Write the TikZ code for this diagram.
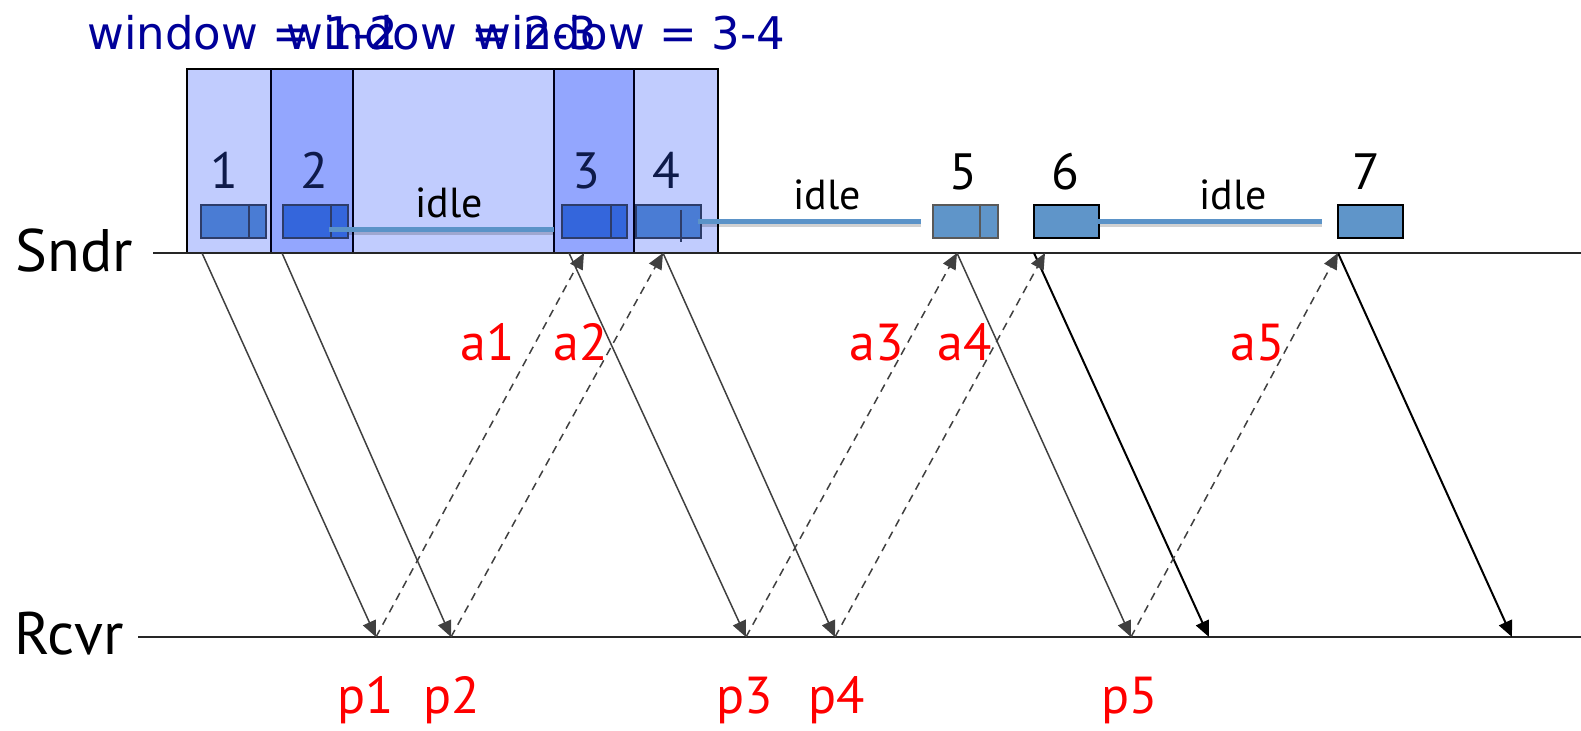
\documentclass[tikz,border=0pt]{standalone}
\usepackage{fontspec}
\setmainfont{PT Sans}
\newfontfamily\winfont{DejaVu Sans}
\usetikzlibrary{arrows.meta}
\definecolor{winblue}{RGB}{0,0,153}
\definecolor{numblue}{RGB}{14,26,74}
\definecolor{colA}{RGB}{193,204,254}
\definecolor{colB}{RGB}{147,166,254}
\definecolor{pktA}{RGB}{74,124,212}
\definecolor{pktB}{RGB}{52,102,220}
\definecolor{pktC}{RGB}{95,149,201}
\definecolor{pktedge}{RGB}{45,60,105}
\definecolor{idleblue}{RGB}{91,147,200}
\definecolor{arrgray}{RGB}{64,64,64}
\begin{document}
\begin{tikzpicture}[x=0.5pt,y=-0.5pt,
  wintxt/.style={font=\winfont\fontsize{22.5}{27}\selectfont, text=winblue, anchor=base west, inner sep=0pt},
  numtxt/.style={font=\fontsize{25.5}{30}\selectfont, anchor=base, inner sep=0pt},
  idletxt/.style={font=\fontsize{21}{25}\selectfont, anchor=base, inner sep=0pt},
  redtxt/.style={font=\fontsize{26}{30}\selectfont, text=red, anchor=base, inner sep=0pt},
  sidetxt/.style={font=\fontsize{30}{36}\selectfont, anchor=base west, inner sep=0pt},
  pkt/.style={draw=pktedge, line width=0.9pt, anchor=north west, minimum width=32.5pt, minimum height=16.5pt, inner sep=0pt},
  idleline/.style={idleblue, line width=2.5pt},
  idleshadow/.style={black, opacity=0.18, line width=2.5pt},
  data/.style={arrgray, line width=0.75pt, -{Triangle[length=8pt,width=7pt]}},
  datab/.style={black, line width=1pt, -{Triangle[length=8pt,width=7pt]}},
  ack/.style={arrgray, line width=0.75pt, dash pattern=on 4pt off 3pt, -{Triangle[length=8pt,width=7pt]}},
  timeline/.style={black!85, line width=1pt}
]
\useasboundingbox (0,0) rectangle (1581,731);

% window texts
\node[wintxt] (w1) at (87,50) {window = 1-2};
\node[wintxt] (w2) at (286,50) {window = 2-3};
\node[wintxt] (w3) at (474,50) {window = 3-4};

% window columns
\fill[colA] (187,69) rectangle (271,253);
\fill[colB] (271,69) rectangle (353,253);
\fill[colA] (353,69) rectangle (554,253);
\fill[colB] (554,69) rectangle (634,253);
\fill[colA] (634,69) rectangle (718,253);
\draw[black, line width=0.8pt] (187,253) -- (187,69) -- (718,69) -- (718,253);
\foreach \xx in {271,353,554,634} \draw[black!90!blue, line width=0.8pt] (\xx,69) -- (\xx,253);

% timelines
\node[sidetxt] (sndr) at (15,272) {Sndr};
\node[sidetxt] (rcvr) at (14,655) {Rcvr};
\coordinate (sL) at (153,253);
\coordinate (sR) at (1581,253);
\coordinate (rL) at (138,637);
\coordinate (rR) at (1581,637);
\draw[timeline] (sL) -- (sR);
\draw[timeline] (rL) -- (rR);

% numbers
\node[numtxt, text=numblue] (n1) at (224,189) {1};
\node[numtxt, text=numblue] (n2) at (314,189) {2};
\node[numtxt, text=numblue] (n3) at (586,189) {3};
\node[numtxt, text=numblue] (n4) at (666,189) {4};
\node[numtxt] (n5) at (963,190) {5};
\node[numtxt] (n6) at (1065,190) {6};
\node[numtxt] (n7) at (1366,190) {7};

% idle lines (shadow + line)
\draw[idleshadow] (331,233) -- (554,233);
\draw[idleshadow] (698,225) -- (921,225);
\draw[idleshadow] (1097,225) -- (1322,225);

% packets
\node[pkt, fill=pktA] (b1) at (200,204) {};
\draw[pktedge, line width=0.9pt] (249,204) -- (249,237);
\node[pkt, fill=pktB] (b2) at (282,204) {};
\draw[pktedge, line width=0.9pt] (331,204) -- (331,237);
\node[pkt, fill=pktB] (b3) at (561,204) {};
\draw[pktedge, line width=0.9pt] (611,204) -- (611,237);
\node[pkt, fill=pktA] (b4) at (635,204) {};
\draw[pktedge, line width=0.7pt] (681,210) -- (681,242);
\node[pkt, fill=pktC, draw=black!65] (b5) at (932,204) {};
\draw[black!65, line width=0.9pt] (980,204) -- (980,237);
\node[pkt, fill=pktC, draw=black] (b6) at (1033,204) {};
\node[pkt, fill=pktC, draw=black, line width=1.1pt] (b7) at (1337,204) {};

\draw[idleline] (329,230) -- (554,230);
\draw[idleline] (698,222) -- (921,222);
\draw[idleline] (1097,222) -- (1322,222);

% idle labels
\node[idletxt] (i1) at (449,218) {idle};
\node[idletxt] (i2) at (827,210) {idle};
\node[idletxt] (i3) at (1233,210) {idle};

% endpoints
\coordinate (s1) at (202,253);
\coordinate (s2) at (282,253);
\coordinate (s3) at (569,253);
\coordinate (s4) at (663,253);
\coordinate (s5) at (957,253);
\coordinate (s6) at (1034,253);
\coordinate (s7) at (1338,253);
\coordinate (k1) at (584,253);
\coordinate (k2) at (663,253);
\coordinate (k3) at (957,253);
\coordinate (k4) at (1045,253);
\coordinate (k5) at (1338,253);
\coordinate (r1) at (376,637);
\coordinate (r2) at (451,637);
\coordinate (r3) at (746,637);
\coordinate (r4) at (835,637);
\coordinate (r5) at (1131,637);
\coordinate (r6) at (1209,637);
\coordinate (r7) at (1512,637);

% data arrows
\draw[data] (s1) -- (r1);
\draw[data] (s2) -- (r2);
\draw[data] (s3) -- (r3);
\draw[data] (s4) -- (r4);
\draw[data] (s5) -- (r5);
\draw[datab] (s6) -- (r6);
\draw[datab] (s7) -- (r7);

% ack arrows
\draw[ack] (r1) -- (k1);
\draw[ack] (r2) -- (k2);
\draw[ack] (r3) -- (k3);
\draw[ack] (r4) -- (k4);
\draw[ack] (r5) -- (k5);

% labels
\node[redtxt] (la1) at (488,361) {a1};
\node[redtxt] (la2) at (581,361) {a2};
\node[redtxt] (la3) at (877,361) {a3};
\node[redtxt] (la4) at (965,361) {a4};
\node[redtxt] (la5) at (1258,361) {a5};
\node[redtxt] (lp1) at (366,714) {p1};
\node[redtxt] (lp2) at (452,714) {p2};
\node[redtxt] (lp3) at (745,714) {p3};
\node[redtxt] (lp4) at (837,714) {p4};
\node[redtxt] (lp5) at (1130,714) {p5};
\end{tikzpicture}
\end{document}
